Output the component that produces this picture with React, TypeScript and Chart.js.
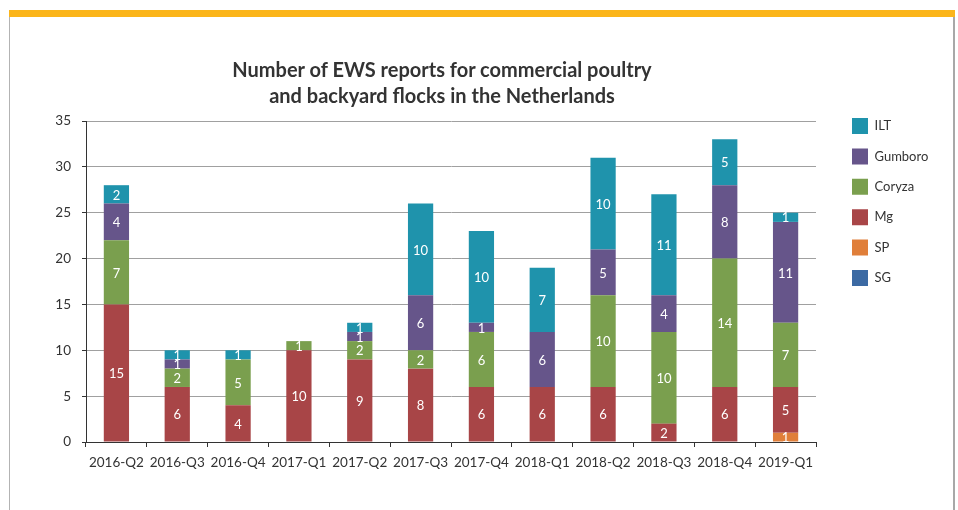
import React, { useEffect, useRef } from "react";
import { Chart, registerables } from "chart.js";

Chart.register(...registerables);

const categories = [
  "2016-Q2", "2016-Q3", "2016-Q4", "2017-Q1", "2017-Q2", "2017-Q3",
  "2017-Q4", "2018-Q1", "2018-Q2", "2018-Q3", "2018-Q4", "2019-Q1",
];
const sgValues = [0, 0, 0, 0, 0, 0, 0, 0, 0, 0, 0, 0];
const spValues = [0, 0, 0, 0, 0, 0, 0, 0, 0, 0, 0, 1];
const mgValues = [15, 6, 4, 10, 9, 8, 6, 6, 6, 2, 6, 5];
const coryzaValues = [7, 2, 5, 1, 2, 2, 6, 0, 10, 10, 14, 7];
const gumboroValues = [4, 1, 0, 0, 1, 6, 1, 6, 5, 4, 8, 11];
const iltValues = [2, 1, 1, 0, 1, 10, 10, 7, 10, 11, 5, 1];
const seriesNames = ["SG", "SP", "Mg", "Coryza", "Gumboro", "ILT"];
const yTicks = [0, 5, 10, 15, 20, 25, 30, 35];
const titleLines = [
  "Number of EWS reports for commercial poultry",
  "and backyard flocks in the Netherlands",
];

const FONT = "Lato, 'Open Sans', sans-serif";
const LEGEND_FONT_SIZE = 13;
const LEGEND_PAD = 14.4;
const LEGEND_BOX = 16;

const valueLabels = {
  id: "valueLabels",
  afterDatasetsDraw(chart: any) {
    const ctx = chart.ctx;
    ctx.save();
    ctx.fillStyle = "#ffffff";
    ctx.font = `13px ${FONT}`;
    ctx.textAlign = "center";
    ctx.textBaseline = "middle";
    chart.data.datasets.forEach((ds: any, di: number) => {
      const meta = chart.getDatasetMeta(di);
      meta.data.forEach((el: any, i: number) => {
        const v = ds.data[i];
        if (!v) return;
        const y = (el.y + el.base) / 2;
        ctx.fillText(String(v), el.x, y + 1);
      });
    });
    ctx.restore();
  },
};

export default function App() {
  const ref = useRef<HTMLCanvasElement | null>(null);

  useEffect(() => {
    if (!ref.current) return;
    const mctx = document.createElement("canvas").getContext("2d") as CanvasRenderingContext2D;
    mctx.font = `${LEGEND_FONT_SIZE}px ${FONT}`;
    const maxText = Math.max(...seriesNames.map((n) => mctx.measureText(n).width));
    const legendWidth = LEGEND_PAD + LEGEND_BOX + LEGEND_FONT_SIZE / 2 + maxText + 10;
    const legendLeft = 852 - LEGEND_PAD;
    const padRight = Math.max(0, 958 - legendLeft - legendWidth);

    const mk = (label: string, data: number[], color: string) => ({
      label,
      data,
      backgroundColor: color,
      borderWidth: 0,
      barPercentage: 0.415,
      categoryPercentage: 1.0,
    });
    const chart = new Chart(ref.current, {
      type: "bar",
      data: {
        labels: categories,
        datasets: [
          mk(seriesNames[0], sgValues, "#3C6AA3"),
          mk(seriesNames[1], spValues, "#E07F3A"),
          mk(seriesNames[2], mgValues, "#A84547"),
          mk(seriesNames[3], coryzaValues, "#7A9F4E"),
          mk(seriesNames[4], gumboroValues, "#66558A"),
          mk(seriesNames[5], iltValues, "#1F93AC"),
        ],
      },
      options: {
        animation: false,
        responsive: false,
        maintainAspectRatio: false,
        layout: { padding: { top: 103.6, left: 56, right: padRight, bottom: 38 } },
        plugins: {
          title: { display: false },
          tooltip: { enabled: false },
          legend: {
            position: "right",
            align: "start",
            reverse: true,
            labels: {
              boxWidth: LEGEND_BOX,
              boxHeight: LEGEND_BOX,
              padding: LEGEND_PAD,
              color: "#333333",
              font: { family: FONT, size: LEGEND_FONT_SIZE },
            },
          },
        },
        scales: {
          x: {
            stacked: true,
            offset: true,
            grid: {
              display: true,
              offset: true,
              drawOnChartArea: false,
              drawTicks: true,
              tickLength: 5,
              tickColor: "#333333",
            },
            border: { display: true, color: "#333333", width: 1 },
            ticks: {
              color: "#333333",
              font: { family: FONT, size: 13.5 },
              padding: 8,
              maxRotation: 0,
              autoSkip: false,
            },
            afterFit: (s: any) => { s.height = 30; },
          },
          x2: {
            type: "category",
            position: "top",
            grid: { display: false },
            border: { display: false },
            ticks: { display: false },
            afterFit: (s: any) => { s.height = 17.4; },
          },
          y: {
            stacked: true,
            min: 0,
            max: 35,
            afterBuildTicks: (s: any) => { s.ticks = yTicks.map((v) => ({ value: v })); },
            grid: {
              color: "#a0a0a0",
              lineWidth: 1,
              drawTicks: true,
              tickLength: 4,
              tickColor: "#333333",
            },
            border: { display: true, color: "#333333", width: 1 },
            ticks: {
              color: "#333333",
              font: { family: FONT, size: 13.5 },
              padding: 11,
            },
            afterFit: (s: any) => { s.width = 30; },
          },
          y2: {
            type: "linear",
            position: "right",
            grid: { display: false },
            border: { display: false },
            ticks: { display: false },
            afterFit: (s: any) => { s.width = 21.6; },
          },
        },
      },
      plugins: [valueLabels],
    } as any);
    return () => chart.destroy();
  }, []);

  return (
    <div style={{ position: "fixed", left: 0, top: 0, width: 958, height: 510, background: "#ffffff" }}>
      <div style={{ position: "absolute", left: 9, top: 10, width: 946, height: 7, background: "#FBB51A" }} />
      <div style={{ position: "absolute", left: 9, top: 17, width: 1, height: 493, background: "#b3b3b3" }} />
      <div style={{ position: "absolute", left: 953, top: 17, width: 2, height: 493, background: "#a8a8a8" }} />
      <canvas
        ref={ref}
        width={958}
        height={510}
        style={{ position: "absolute", left: 0, top: 0, width: 958, height: 510 }}
      />
      <div
        style={{
          position: "absolute",
          left: 0,
          top: 55.5,
          width: 884,
          textAlign: "center",
          fontFamily: FONT,
          fontWeight: 700,
          fontSize: 20,
          lineHeight: "26px",
          color: "#333333",
        }}
      >
        {titleLines.map((t) => (
          <div key={t}>{t}</div>
        ))}
      </div>
    </div>
  );
}
